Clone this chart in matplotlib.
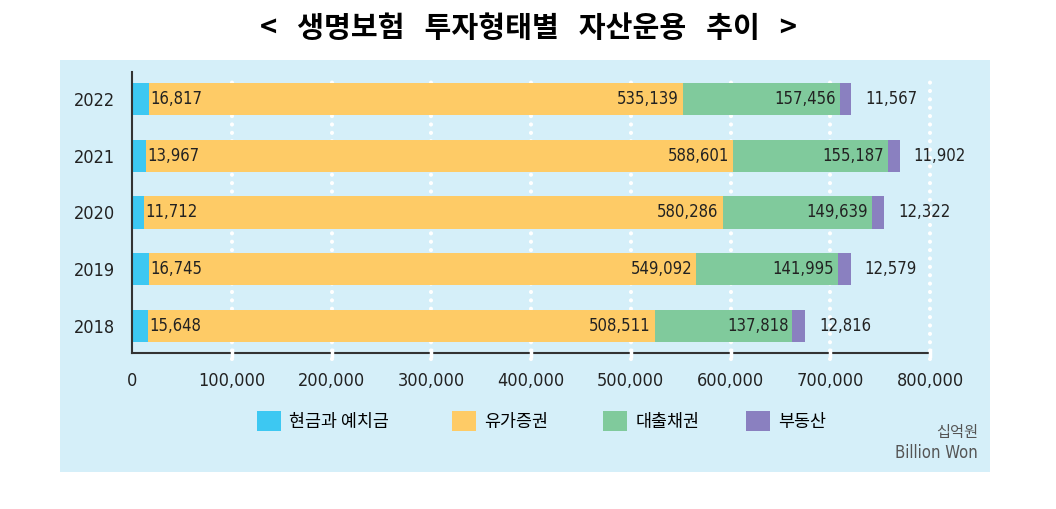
import matplotlib.pyplot as plt
from matplotlib.patches import Rectangle, Patch

plt.rcParams['font.family'] = ['DejaVu Sans', 'Noto Sans CJK KR']
plt.rcParams['font.stretch'] = 'condensed'

years = ["2022", "2021", "2020", "2019", "2018"]
cash = [16817, 13967, 11712, 16745, 15648]
securities = [535139, 588601, 580286, 549092, 508511]
loans = [157456, 155187, 149639, 141995, 137818]
realty = [11567, 11902, 12322, 12579, 12816]
series_names = ["현금과 예치금", "유가증권", "대출채권", "부동산"]
colors = ["#3dc8f2", "#fecb66", "#80ca9c", "#8a80c0"]
xticks = list(range(0, 800001, 100000))

W, H = 1056, 509
fig = plt.figure(figsize=(W / 100, H / 100), dpi=100)
fig.patches.append(Rectangle((60 / W, 1 - 472 / H), 930 / W, 412 / H,
                             transform=fig.transFigure, facecolor="#d5eff9",
                             edgecolor="none", zorder=-5))
ax = fig.add_axes([132 / W, 1 - 353 / H, 798 / W, 281 / H])
ax.set_facecolor("none")
ax.set_zorder(2)

y = list(range(len(years)))
h = 0.565
left = [0] * len(years)
for vals, c in zip([cash, securities, loans, realty], colors):
    ax.barh(y, vals, left=left, height=h, color=c, zorder=2)
    left = [l + v for l, v in zip(left, vals)]

for i in y:
    c0 = cash[i]
    c1 = c0 + securities[i]
    c2 = c1 + loans[i]
    c3 = c2 + realty[i]
    ax.text(c0 + 1500, i, f"{cash[i]:,}", va="center", ha="left", fontsize=12, color="#222222", zorder=3)
    ax.text(c1 - 4000, i, f"{securities[i]:,}", va="center", ha="right", fontsize=12, color="#222222", zorder=3)
    ax.text(c2 - 4000, i, f"{loans[i]:,}", va="center", ha="right", fontsize=12, color="#222222", zorder=3)
    ax.text(c3 + 14000, i, f"{realty[i]:,}", va="center", ha="left", fontsize=12, color="#222222", zorder=3)

# white dotted grid, also breaking the bottom axis line
for xv in xticks[1:]:
    ax.plot([xv, xv], [-0.02, 0.985], transform=ax.get_xaxis_transform(), color="white",
            linestyle=(0, (0.01, 2)), linewidth=3, dash_capstyle="round",
            clip_on=False, zorder=1)
    ax.plot([xv, xv], [-0.012, 0.012], transform=ax.get_xaxis_transform(), color="white",
            linewidth=2.5, clip_on=False, zorder=3)

ax.set_xlim(0, 800000)
ax.set_ylim(len(years) - 0.5 - 0.024, -0.476)
ax.set_xticks(xticks)
ax.set_xticklabels([f"{v:,}" for v in xticks], fontsize=13, color="#222222")
ax.set_yticks(y)
ax.set_yticklabels(years, fontsize=13, color="#222222")
ax.tick_params(length=0, pad=14)
ax.tick_params(axis="y", pad=12)
for s in ["top", "right"]:
    ax.spines[s].set_visible(False)
for s in ["left", "bottom"]:
    ax.spines[s].set_color("#333333")
    ax.spines[s].set_linewidth(1.5)

# legend items placed one by one, as in the original
legend_x = [257, 452, 603, 746]
for name, c, lx in zip(series_names, colors, legend_x):
    fig.legend([Patch(facecolor=c, edgecolor="none")], [name], loc="center left",
               bbox_to_anchor=(lx / W, 1 - 421 / H), frameon=False,
               handlelength=1.4, handleheight=1.45, handletextpad=0.45,
               borderpad=0, borderaxespad=0,
               prop={"family": ["Noto Sans CJK KR", "DejaVu Sans"], "size": 12.5})

fig.text(978 / W, 1 - 432 / H, "십억원", ha="right", va="center", fontsize=11,
         color="#555555", family=["Noto Sans CJK KR", "DejaVu Sans"])
fig.text(978 / W, 1 - 453 / H, "Billion Won", ha="right", va="center", fontsize=12,
         color="#555555")

fig.text(528 / W, 1 - 28 / H, "<   생명보험   투자형태별   자산운용   추이   >", ha="center",
         va="center", fontsize=21, fontweight="bold", color="black",
         family=["Noto Sans CJK KR", "DejaVu Sans"])

fig.savefig("out.png", dpi=100)
